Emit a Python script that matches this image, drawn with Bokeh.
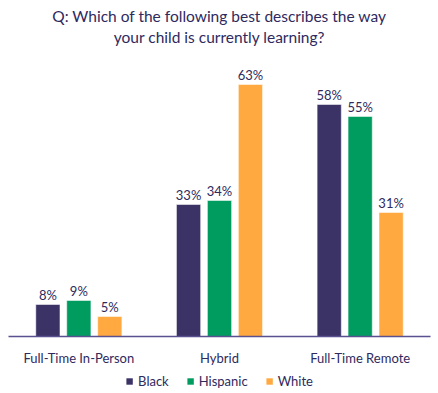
from bokeh.plotting import figure
from bokeh.models import ColumnDataSource, FactorRange, Range1d, Legend, LegendItem, Title
from bokeh.layouts import column
from bokeh.transform import dodge
from bokeh.core.properties import value
from bokeh.embed import file_html
from bokeh.resources import INLINE

categories = ["Full-Time In-Person", "Hybrid", "Full-Time Remote"]
series = ["Black", "Hispanic", "White"]
black = [8, 33, 58]
hispanic = [9, 34, 55]
white = [5, 63, 31]
colors = ["#3b3266", "#009b5f", "#ffa940"]
title_lines = ["Q: Which of the following best describes the way",
               "your child is currently learning?"]

FONT = "Lato"
TXT = "#2e2a5e"

src = ColumnDataSource(dict(
    cat=categories,
    Black=black, Hispanic=hispanic, White=white,
    Black_l=[f"{v}%" for v in black],
    Hispanic_l=[f"{v}%" for v in hispanic],
    White_l=[f"{v}%" for v in white],
))

p = figure(x_range=FactorRange(*categories), y_range=Range1d(0, 72.5),
           frame_width=422, frame_height=290, output_backend="svg", toolbar_location=None,
           min_border_left=8, min_border_right=8, min_border_top=46, min_border_bottom=30)
p.outline_line_color = None
p.grid.visible = False
p.yaxis.visible = False
p.title = None

standoffs = [2, 0]
for line, so in zip(reversed(title_lines), standoffs):
    p.add_layout(Title(text=line, align="center", text_font=FONT, text_font_size="15.5px",
                       text_font_style="normal", text_color=TXT, standoff=so), "above")

offsets = [-0.22, 0.0, 0.22]
for s, off, c in zip(series, offsets, colors):
    p.vbar(x=dodge("cat", off, range=p.x_range), top=s, width=0.172, source=src,
           fill_color=c, line_color="white", line_alpha=0.5, line_width=1)
    p.text(x=dodge("cat", off, range=p.x_range), y=s, text=s + "_l", source=src,
           y_offset=-2, text_align="center", text_baseline="bottom",
           text_font=value(FONT), text_font_size="13px", text_color=TXT)

ax = p.xaxis[0]
ax.axis_line_color = "#5a5190"
ax.axis_line_width = 1.3
ax.major_tick_line_color = None
ax.minor_tick_line_color = None
ax.major_tick_out = 0
ax.major_label_text_font = FONT
ax.major_label_text_font_size = "13px"
ax.major_label_text_color = TXT
ax.major_label_standoff = 13

# legend strip below the chart (hidden proxy renderers carry the swatch colours)
q = figure(width=438, height=27, x_range=Range1d(0, 1), y_range=Range1d(0, 1),
           output_backend="svg", toolbar_location=None, min_border=0,
           x_axis_location=None, y_axis_location=None)
q.outline_line_color = None
q.grid.visible = False
items = []
for s, c in zip(series, colors):
    r = q.vbar(x=s, top=s, width=0.1, source=src, fill_color=c, line_color=None,
               visible=False)
    items.append(LegendItem(label=s, renderers=[r]))
leg = Legend(items=items, orientation="horizontal", location="top_center",
             label_text_font=FONT, label_text_font_size="13px", label_text_color=TXT,
             glyph_width=8, glyph_height=8, label_standoff=5, spacing=17,
             padding=0, margin=5, border_line_color=None, background_fill_alpha=0,
             label_height=14, inactive_fill_alpha=0)
q.add_layout(leg, "center")

layout = column(p, q, spacing=0)
open("out.html", "w").write(file_html(layout, INLINE))
